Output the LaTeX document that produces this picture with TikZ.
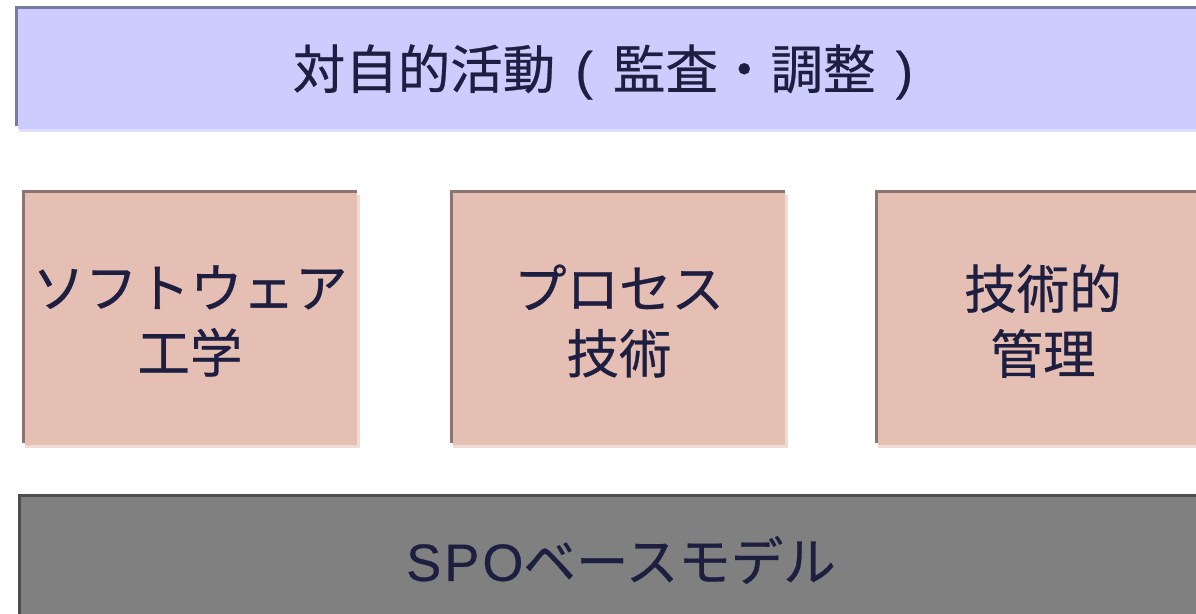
\documentclass[tikz,border=0pt]{standalone}
\usepackage{fontspec}
\setmainfont{Noto Sans CJK JP}[FakeBold=0.5]
\newfontfamily\latinf[LetterSpace=6,FakeBold=0.5]{Liberation Sans}
\definecolor{topfill}{HTML}{CCCCFF}
\definecolor{topedge}{HTML}{7A7A9A}
\definecolor{topshadow}{HTML}{DEDEFC}
\definecolor{pinkfill}{HTML}{E6BFB4}
\definecolor{pinkedge}{HTML}{8C7571}
\definecolor{pinkshadow}{HTML}{F1DBD5}
\definecolor{grayfill}{HTML}{808080}
\definecolor{grayedge}{HTML}{4D4D4D}
\definecolor{inkc}{HTML}{1E1E40}
\newcommand{\cparen}[1]{\makebox[1.1em][c]{\latinf #1}}
\begin{document}
\begin{tikzpicture}[x=1pt,y=-1pt,
  label/.style={text=inkc,font=\fontsize{52.5}{65}\selectfont,align=center,inner sep=0pt}]
\useasboundingbox (0,0) rectangle (1196,613);
\clip (0,0) rectangle (1196,613);
% top box
\fill[topshadow] (19,12) rectangle (1200,132);
\fill[topedge] (15,6) rectangle (1200,126);
\fill[topfill] (18,9) rectangle (1200,129);
\node[label] (top) at (613,72) {対自的活動\cparen{(}監査・調整\cparen{)}};
% pink boxes
\foreach \xa/\xb in {22/357,450/785,875/1210}{
  \fill[pinkshadow] (\xa+3,195) rectangle (\xb+3,448);
  \fill[pinkedge] (\xa,190) rectangle (\xb,443);
  \fill[pinkfill] (\xa+2.5,192.5) rectangle (\xb,445);
}
\node[label] (se) at (190,321) {ソフトウェア\\工学};
\node[label] (pt) at (619,321) {プロセス\\技術};
\node[label] (tm) at (1043,321) {技術的\\管理};
% bottom box
\fill[grayedge] (18,494) rectangle (1230,620);
\fill[grayfill] (21,497) rectangle (1230,620);
\node[label] (spo) at (621,560) {{\latinf SPO}ベースモデル};
\end{tikzpicture}
\end{document}
